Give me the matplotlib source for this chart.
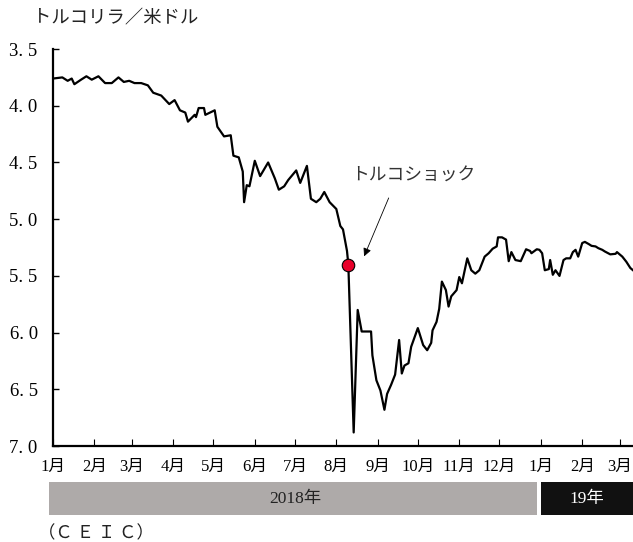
import matplotlib
matplotlib.use("Agg")
import matplotlib.pyplot as plt
import matplotlib.dates as mdates
import matplotlib.transforms as mtransforms
from matplotlib.patches import Rectangle
import pandas as pd

# === Data: Turkish lira per US dollar ===
dates = [
    "2018-01-01", "2018-01-08", "2018-01-12", "2018-01-15", "2018-01-17", "2018-01-22",
    "2018-01-26", "2018-01-30", "2018-02-04", "2018-02-09", "2018-02-14", "2018-02-19",
    "2018-02-23", "2018-02-27", "2018-03-03", "2018-03-08", "2018-03-13", "2018-03-17",
    "2018-03-23", "2018-03-29", "2018-04-02", "2018-04-06", "2018-04-10", "2018-04-12",
    "2018-04-17", "2018-04-18", "2018-04-20", "2018-04-24", "2018-04-25", "2018-05-02",
    "2018-05-04", "2018-05-09", "2018-05-14", "2018-05-16", "2018-05-20", "2018-05-23",
    "2018-05-24", "2018-05-26", "2018-05-28", "2018-06-01", "2018-06-05", "2018-06-11",
    "2018-06-16", "2018-06-19", "2018-06-23", "2018-06-26", "2018-07-02", "2018-07-05",
    "2018-07-10", "2018-07-13", "2018-07-17", "2018-07-20", "2018-07-23", "2018-07-27",
    "2018-08-01", "2018-08-04", "2018-08-06", "2018-08-09", "2018-08-10", "2018-08-14",
    "2018-08-17", "2018-08-20", "2018-08-27", "2018-08-28", "2018-08-31", "2018-09-03",
    "2018-09-06", "2018-09-08", "2018-09-11", "2018-09-14", "2018-09-17", "2018-09-19",
    "2018-09-21", "2018-09-24", "2018-09-26", "2018-10-01", "2018-10-05", "2018-10-08",
    "2018-10-11", "2018-10-12", "2018-10-15", "2018-10-17", "2018-10-19", "2018-10-22",
    "2018-10-24", "2018-10-26", "2018-10-30", "2018-11-01", "2018-11-03", "2018-11-07",
    "2018-11-10", "2018-11-13", "2018-11-16", "2018-11-20", "2018-11-23", "2018-11-26",
    "2018-11-29", "2018-11-30", "2018-12-03", "2018-12-06", "2018-12-08", "2018-12-10",
    "2018-12-13", "2018-12-17", "2018-12-21", "2018-12-24", "2018-12-25", "2018-12-29",
    "2018-12-31", "2019-01-02", "2019-01-04", "2019-01-07", "2019-01-08", "2019-01-10",
    "2019-01-12", "2019-01-15", "2019-01-18", "2019-01-20", "2019-01-23", "2019-01-25",
    "2019-01-27", "2019-01-29", "2019-02-01", "2019-02-03", "2019-02-06", "2019-02-08",
    "2019-02-11", "2019-02-13", "2019-02-16", "2019-02-18", "2019-02-22", "2019-02-26",
    "2019-02-27", "2019-03-03", "2019-03-06", "2019-03-09", "2019-03-11",
]
rates = [
    3.76, 3.75, 3.78, 3.76, 3.81, 3.77,
    3.74, 3.77, 3.74, 3.80, 3.80, 3.75,
    3.79, 3.78, 3.80, 3.80, 3.82, 3.885,
    3.91, 3.985, 3.95, 4.04, 4.06, 4.14,
    4.08, 4.10, 4.02, 4.02, 4.08, 4.04,
    4.185, 4.27, 4.26, 4.44, 4.455, 4.58,
    4.85, 4.70, 4.71, 4.485, 4.62, 4.50,
    4.64, 4.74, 4.71, 4.655, 4.57, 4.68,
    4.53, 4.82, 4.85, 4.82, 4.76, 4.85,
    4.91, 5.06, 5.09, 5.28, 5.40, 6.88,
    5.80, 5.99, 5.99, 6.20, 6.42, 6.51,
    6.68, 6.54, 6.46, 6.37, 6.065, 6.36,
    6.29, 6.27, 6.125, 5.96, 6.11, 6.155,
    6.09, 5.98, 5.905, 5.79, 5.55, 5.625,
    5.77, 5.68, 5.625, 5.51, 5.565, 5.345,
    5.45, 5.48, 5.45, 5.33, 5.30, 5.26,
    5.24, 5.16, 5.16, 5.18, 5.37, 5.29,
    5.36, 5.37, 5.265, 5.28, 5.30, 5.265,
    5.27, 5.30, 5.45, 5.44, 5.36, 5.49,
    5.45, 5.50, 5.36, 5.345, 5.345, 5.29,
    5.27, 5.33, 5.21, 5.20, 5.22, 5.235,
    5.24, 5.255, 5.27, 5.285, 5.31, 5.305,
    5.29, 5.33, 5.375, 5.43, 5.45,
]
shock_date = "2018-08-10"
shock_rate = 5.40

month_starts = pd.date_range("2018-01-01", "2019-03-01", freq="MS")
month_labels = [f"{d.month}月" for d in month_starts]
y_ticks = [3.5, 4.0, 4.5, 5.0, 5.5, 6.0, 6.5, 7.0]
y_labels = [f"{v:.1f}".replace(".", ". ") for v in y_ticks]

x = pd.to_datetime(dates)

jp = ["Noto Sans CJK JP", "DejaVu Sans"]
num = ["Liberation Serif", "Noto Sans CJK JP"]

fig = plt.figure(figsize=(6.33, 5.42), dpi=100)
ax = fig.add_axes([0.0837, 0.177, 0.9163, 0.7325])

ax.plot(x, rates, color="black", lw=1.6, zorder=3)
ax.plot(pd.to_datetime(shock_date), shock_rate, "o", ms=9, mfc="#e8002a",
        mec="black", mew=0.8, zorder=4)

ax.set_ylim(7.0, 3.5)
ax.set_xlim(pd.Timestamp("2018-01-01"), pd.Timestamp("2019-03-11"))
ax.set_yticks(y_ticks)
ax.set_yticklabels(y_labels, family=num, fontsize=13.5)
ax.set_xticks(month_starts)
ax.set_xticklabels(month_labels, family=num, fontsize=12)
ax.tick_params(axis="y", direction="in", length=4, width=1, pad=11)
ax.tick_params(axis="x", direction="in", length=5, width=0.8, pad=9)

for s in ("top", "right"):
    ax.spines[s].set_visible(False)
for s in ("left", "bottom"):
    ax.spines[s].set_linewidth(1.6)

# annotation for the August crash
ax.annotate("", xy=(pd.Timestamp("2018-08-21"), 5.35), xytext=(pd.Timestamp("2018-09-10"), 4.79),
            arrowprops=dict(arrowstyle="-|>", color="black", lw=0.6, mutation_scale=12))
ax.text(pd.Timestamp("2018-08-12"), 4.62, "トルコショック", family=jp, fontsize=12.8,
        color="#333333", va="center", ha="left")

# year band under the month labels
trans = mtransforms.blended_transform_factory(ax.transData, fig.transFigure)
y0, h = 1 - 515 / 542, 33 / 542
gray_start, gray_end = pd.Timestamp("2017-12-29"), pd.Timestamp("2018-12-29")
blk_start, blk_end = pd.Timestamp("2019-01-01"), pd.Timestamp("2019-03-20")
fig.patches.append(Rectangle((mdates.date2num(gray_start), y0),
                             mdates.date2num(gray_end) - mdates.date2num(gray_start), h,
                             transform=trans, facecolor="#aeaaa9", edgecolor="none"))
fig.patches.append(Rectangle((mdates.date2num(blk_start), y0),
                             mdates.date2num(blk_end) - mdates.date2num(blk_start), h,
                             transform=trans, facecolor="#111111", edgecolor="none"))
fig.text(295 / 633, y0 + h / 2, "2018年", family=num, fontsize=12.5, ha="center", va="center",
         color="#222222")
fig.text(587 / 633, y0 + h / 2, "19年", family=num, fontsize=12.5, ha="center", va="center",
         color="white")

fig.text(33 / 633, 1 - 18 / 542, "トルコリラ／米ドル", family=jp, fontsize=13.2,
         ha="left", va="center", color="#222222")
fig.text(38 / 633, 1 - 533 / 542, "（Ｃ Ｅ Ｉ Ｃ）", family=jp, fontsize=12.5,
         ha="left", va="center", color="#222222")

fig.savefig("out.png", dpi=100)
